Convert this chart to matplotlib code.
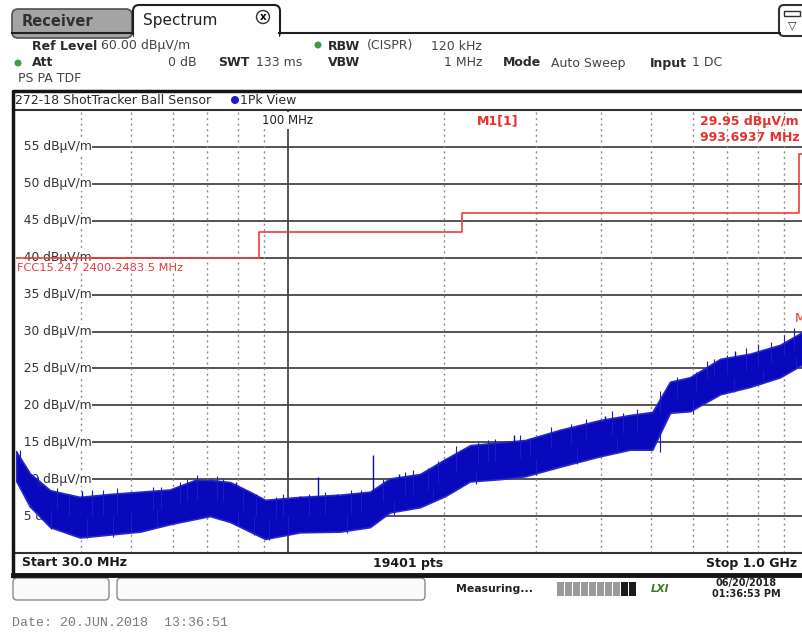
import matplotlib.pyplot as plt
from matplotlib.patches import FancyBboxPatch, Rectangle, Circle

# trace envelope (MHz, dBuV/m)
trace_freq = [30, 31.9, 34.9, 39.8, 45.5, 52.0, 59.3, 66.3, 70.8, 77.4, 84.5,
              90.4, 105.5, 126, 143.8, 157, 179.5, 200.5, 224, 256, 286,
              334, 398, 455, 502, 543, 593, 678, 774, 884, 974, 1000]
trace_upper = [13.8, 10.8, 8.5, 7.6, 8.0, 8.3, 8.6, 9.9, 9.9, 9.6, 8.3,
               7.2, 7.6, 7.9, 8.3, 10.1, 10.7, 12.7, 14.6, 15.0, 15.3,
               16.7, 18.0, 18.7, 19.1, 23.2, 23.8, 26.3, 27.0, 28.2, 29.9, 30.6]
trace_lower = [9.8, 6.3, 3.5, 2.1, 2.5, 2.9, 3.9, 4.6, 5.0, 4.2, 2.9,
               1.9, 2.8, 2.9, 3.5, 5.5, 6.2, 7.7, 9.7, 10.0, 10.4,
               11.7, 13.1, 14.0, 14.0, 19.0, 19.2, 21.5, 22.5, 23.8, 25.5, 26.4]

# single spikes sticking out of the noise
spike_freq = [40.2, 49.9, 69.6, 79.5, 105.5, 114, 124.3, 146, 163.6, 265, 272, 302.6, 407, 684, 724]
spike_base = [5.0, 5.5, 7.0, 6.8, 5.0, 5.0, 5.2, 5.8, 7.5, 12.0, 12.2, 12.5, 15.0, 23.5, 24.5]
spike_top = [8.4, 7.6, 9.6, 9.6, 7.7, 10.3, 8.0, 13.3, 10.7, 15.0, 16.0, 15.0, 18.5, 26.0, 27.3]

# short noise peaks along the edges of the band
grass_freq = [30.5, 33, 36, 38, 42, 44, 47, 55, 57, 62, 64, 67, 73, 75, 82, 87, 95, 98,
              110, 118, 132, 138, 152, 168, 174, 186, 194, 210, 232, 242, 250, 280, 292,
              320, 350, 375, 420, 440, 470, 520, 560, 610, 640, 660, 700, 760, 800, 850,
              900, 940,
              35, 41, 46, 50, 56, 80, 86, 92, 100, 130, 160, 190, 230, 300, 360, 430,
              520, 600, 720, 820, 950]
grass_mid = [12.0, 9.0, 6.0, 5.0, 5.0, 5.2, 5.3, 5.8, 6.0, 6.8, 7.0, 7.2, 7.2, 7.0, 5.8, 5.0,
             4.8, 5.0, 5.2, 5.3, 5.4, 5.5, 7.0, 7.8, 8.0, 8.5, 9.5, 11.0, 12.0, 12.3, 12.4,
             12.8, 13.0, 14.2, 14.8, 15.4, 16.0, 16.2, 16.4, 19.0, 21.0, 22.0, 23.5, 23.8,
             24.2, 24.8, 25.3, 25.8, 26.8, 27.5,
             5.8, 4.8, 5.0, 5.5, 6.0, 5.8, 5.2, 4.5, 5.0, 5.2, 7.0, 8.7, 11.0, 12.7, 14.2,
             15.5, 16.5, 21.0, 23.7, 24.8, 26.5]
grass_tip = [14.0, 10.3, 8.8, 8.0, 8.6, 8.5, 8.8, 9.0, 8.9, 9.6, 10.0, 10.5, 10.4, 10.0, 8.8,
             8.0, 7.6, 8.0, 8.0, 8.3, 8.6, 8.5, 10.0, 11.0, 11.3, 11.5, 12.5, 14.5, 15.0,
             15.3, 15.5, 16.0, 15.6, 17.0, 17.5, 18.2, 19.2, 19.0, 19.5, 22.0, 23.8, 24.5,
             26.0, 26.3, 26.8, 27.8, 28.3, 28.6, 29.5, 30.5,
             3.2, 2.0, 2.2, 2.8, 3.5, 3.8, 2.5, 1.8, 2.5, 2.7, 5.2, 7.3, 9.3, 10.5, 12.0,
             13.5, 13.7, 18.8, 21.8, 23.0, 25.0]

# FCC limit line
limit_freq = [30, 88, 216, 960, 1000]
limit_level = [40, 43.5, 46, 54, 54]

y_ticks = [5, 10, 15, 20, 25, 30, 35, 40, 45, 50, 55]
minor_freqs = [40, 50, 60, 70, 80, 90, 200, 300, 400, 500, 600, 700, 800, 900]

W, H = 802, 633
fig = plt.figure(figsize=(W / 100, H / 100), dpi=100)

ax = fig.add_axes([16 / W, (H - 553) / H, (808 - 16) / W, (553 - 110) / H])
ax.set_xscale('log')
ax.set_xlim(30, 1000)
ax.set_ylim(0, 60)
ax.set_xticks([])
ax.set_yticks([])
ax.minorticks_off()
for s in ['left', 'right']:
    ax.spines[s].set_visible(False)
for s in ['top', 'bottom']:
    ax.spines[s].set_color('#303030')
    ax.spines[s].set_linewidth(1.5)

grid_c = '#454545'
for v in y_ticks:
    ax.axhline(v, color=grid_c, lw=1.3, zorder=1)
for f in minor_freqs:
    ax.axvline(f, color='#8c8c8c', lw=1, ls=(0, (1.5, 2.5)), zorder=1)
ax.axvline(100, color=grid_c, lw=1.3, zorder=1)

for v in y_ticks:
    ax.text(30, v, f'  {v} dBµV/m', ha='left', va='center', fontsize=8.8, color='#333333',
            zorder=2, bbox=dict(fc='white', ec='none', pad=0.4))

ax.text(100, 58.6, '100 MHz', ha='center', va='center', fontsize=8.5, color='#222222',
        zorder=2, bbox=dict(fc='white', ec='none', pad=1.5))

ax.step(limit_freq, limit_level, where='post', color='#f03c3c', lw=1.2, zorder=3)
ax.text(30.1, 38.6, 'FCC15.247 2400-2483.5 MHz', ha='left', va='center', fontsize=8.2,
        color='#e83a3a', zorder=4, bbox=dict(fc='white', ec='none', pad=0.3))

blue = '#0808bc'
ax.fill_between(trace_freq, trace_lower, trace_upper, color=blue, lw=1.2, ec='#2828cc', zorder=5)
ax.vlines(grass_freq, grass_mid, grass_tip, color='#1a1ac8', lw=0.8, zorder=5)
ax.vlines(spike_freq, spike_base, spike_top, color=blue, lw=1, zorder=5)

red = '#e8302c'
ax.text(231, 58.5, 'M1[1]', ha='left', va='center', fontsize=9, color=red, fontweight='bold')
ax.text(619, 58.5, '29.95 dBµV/m', ha='left', va='center', fontsize=9, color=red,
        fontweight='bold', clip_on=False)
ax.text(619, 56.3, '993.6937 MHz', ha='left', va='center', fontsize=9, color=red,
        fontweight='bold', clip_on=False)
ax.text(945, 31.8, 'M1', ha='left', va='center', fontsize=9, color=red)

# instrument chrome around the plot, in pixel coordinates
ov = fig.add_axes([0, 0, 1, 1], zorder=3)
ov.set_xlim(0, W)
ov.set_ylim(H, 0)
ov.axis('off')
ov.patch.set_alpha(0)

# tabs
ov.add_patch(FancyBboxPatch((12, 9), 120, 29, boxstyle='round,pad=0,rounding_size=6',
                            fc='#a4a4a4', ec='#505050', lw=1.2))
ov.add_patch(FancyBboxPatch((133, 5), 147, 33, boxstyle='round,pad=0,rounding_size=6',
                            fc='white', ec='#202020', lw=1.5))
ov.add_patch(Rectangle((134, 30), 145, 10, fc='white', ec='none'))
ov.plot([12, 133], [33, 33], color='#202020', lw=1.5)
ov.plot([279, 780], [33, 33], color='#202020', lw=1.5)
ov.text(22, 21, 'Receiver', fontsize=10.5, fontweight='bold', color='#303030', va='center')
ov.text(143, 20, 'Spectrum', fontsize=11, color='#202020', va='center')
ov.add_patch(Circle((263, 17), 6.5, fc='white', ec='#303030', lw=1))
ov.text(263, 17, 'x', fontsize=7.5, ha='center', va='center', fontweight='bold')
ov.add_patch(FancyBboxPatch((779, 5), 30, 31, boxstyle='round,pad=0,rounding_size=5',
                            fc='white', ec='#303030', lw=1.5))
ov.add_patch(Rectangle((784, 11), 16, 5, fc='white', ec='#303030', lw=1))
ov.text(792, 25, '▽', fontsize=8, ha='center', va='center', color='#303030')

# setting rows
tc = '#2a2a2a'
nc = '#444444'
hs = 9
ov.text(32, 46, 'Ref Level', fontsize=hs, fontweight='bold', va='center', color=tc)
ov.text(101, 46, '60.00 dBµV/m', fontsize=hs, va='center', color=nc)
ov.add_patch(Circle((318, 45), 3.5, fc='#3aa048', ec='none'))
ov.text(328, 46, 'RBW', fontsize=hs, fontweight='bold', va='center', color=tc)
ov.text(367, 46, '(CISPR)', fontsize=hs, va='center', color=nc)
ov.text(482, 46, '120 kHz', fontsize=hs, ha='right', va='center', color=nc)
ov.add_patch(Circle((18, 63), 3.5, fc='#3aa048', ec='none'))
ov.text(32, 63, 'Att', fontsize=hs, fontweight='bold', va='center', color=tc)
ov.text(197, 63, '0 dB', fontsize=hs, ha='right', va='center', color=nc)
ov.text(218, 63, 'SWT', fontsize=hs, fontweight='bold', va='center', color=tc)
ov.text(256, 63, '133 ms', fontsize=hs, va='center', color=nc)
ov.text(328, 63, 'VBW', fontsize=hs, fontweight='bold', va='center', color=tc)
ov.text(482, 63, '1 MHz', fontsize=hs, ha='right', va='center', color=nc)
ov.text(503, 63, 'Mode', fontsize=hs, fontweight='bold', va='center', color=tc)
ov.text(551, 63, 'Auto Sweep', fontsize=hs, va='center', color=nc)
ov.text(650, 63, 'Input', fontsize=hs, fontweight='bold', va='center', color=tc)
ov.text(692, 63, '1 DC', fontsize=hs, va='center', color=nc)
ov.text(18, 78, 'PS PA TDF', fontsize=hs, va='center', color=nc)

# frame and trace title
ov.plot([13, 13, 810], [576, 91, 91], color='#151515', lw=2.5)
ov.plot([13, 810], [575, 575], color='#151515', lw=3.5)
ov.text(15, 100, '272-18 ShotTracker Ball Sensor', fontsize=9, va='center', color=tc)
ov.add_patch(Circle((235, 100), 4, fc='#1a1acc', ec='none'))
ov.text(240, 100, '1Pk View', fontsize=9, va='center', color=tc)

ov.text(22, 563, 'Start 30.0 MHz', fontsize=9, fontweight='bold', va='center', color='#1a1a1a')
ov.text(408, 563, '19401 pts', fontsize=9, fontweight='bold', ha='center', va='center', color='#1a1a1a')
ov.text(797, 563, 'Stop 1.0 GHz', fontsize=9, fontweight='bold', ha='right', va='center', color='#1a1a1a')

# status bar
ov.add_patch(FancyBboxPatch((13, 578), 96, 22, boxstyle='round,pad=0,rounding_size=4',
                            fc='#fafafa', ec='#8a8a8a', lw=1))
ov.add_patch(FancyBboxPatch((117, 578), 308, 22, boxstyle='round,pad=0,rounding_size=4',
                            fc='#fafafa', ec='#8a8a8a', lw=1))
ov.text(456, 589, 'Measuring...', fontsize=7.8, fontweight='bold', va='center', color='#222222')
for i in range(10):
    c = '#1a1a1a' if i >= 8 else '#9a9a9a'
    ov.add_patch(Rectangle((557 + i * 8, 582), 7, 14, fc=c, ec='none'))
ov.text(660, 589, 'LXI', fontsize=7.5, fontweight='bold', fontstyle='italic', ha='center',
        va='center', color='#3d7a2c')
ov.text(746, 583, '06/20/2018', fontsize=7, fontweight='bold', ha='center', va='center', color='#222222')
ov.text(746, 594, '01:36:53 PM', fontsize=7, fontweight='bold', ha='center', va='center', color='#222222')

ov.text(12, 623, 'Date: 20.JUN.2018  13:36:51', fontsize=9.5, family='Liberation Mono',
        va='center', color='#7a7a7a')

fig.savefig('out.png', dpi=100)
